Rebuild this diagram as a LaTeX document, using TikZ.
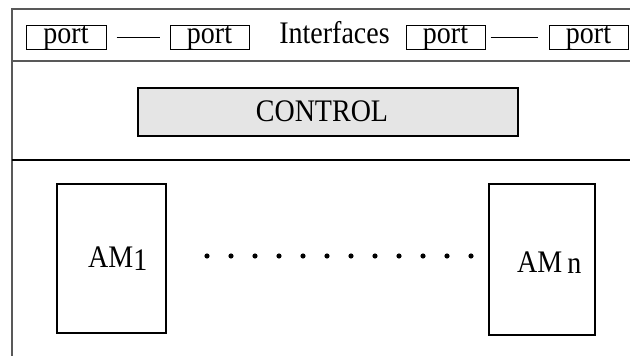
\documentclass[tikz,border=0pt]{standalone}
\usepackage{graphicx}
\usepackage{fontspec}
\setmainfont{Liberation Serif}
\newcommand\vstr[1]{\scalebox{1}[1.12]{#1}}
\begin{document}
\begin{tikzpicture}[x=1pt,y=-1pt,
  every node/.style={font=\fontsize{28}{30}\selectfont},
  frameline/.style={draw=black!65, line width=1.6pt},
  sepline/.style={draw=black, line width=1.2pt},
  portbox/.style={draw, line width=1pt, inner sep=0pt, minimum width=79pt, text height=18pt, text depth=6pt},
  wire/.style={draw, line width=1pt},
  ctrlbox/.style={draw, line width=1.2pt, fill=black!10, inner sep=0pt, minimum width=380pt, minimum height=48pt},
  ambox/.style={draw, line width=1.2pt, inner sep=0pt},
  lbl/.style={anchor=base west, inner sep=0pt}]
\useasboundingbox (0,0) rectangle (630,356);
% frame
\draw[frameline] (12,356) -- (12,9) -- (630,9);
\draw[frameline] (12,61) -- (630,61);
\draw[sepline] (12,160) -- (630,160);
% interfaces row
\node[portbox, minimum width=80pt] (p1) at (66,37) {\vstr{port}};
\node[portbox] (p2) at (209.5,37) {\vstr{port}};
\node[anchor=base, inner sep=0pt] (intf) at (334.5,43) {\vstr{Interfaces}};
\node[portbox] (p3) at (445.5,37) {\vstr{port}};
\node[portbox] (p4) at (588.5,37) {\vstr{port}};
\draw[wire, shorten <=10pt, shorten >=10pt] (p1) -- (p2);
\draw[wire, shorten <=5pt, shorten >=11pt] (p3) -- (p4);
% control
\node[ctrlbox] (ctrl) at (328,112) {};
\node[anchor=base, inner sep=0pt] (ctrltext) at (322,121) {\vstr{CONTROL}};
% AM boxes
\node[ambox, minimum width=109pt, minimum height=149pt] (am1) at (111.5,258.5) {};
\node[ambox, minimum width=106pt, minimum height=151pt] (amn) at (542,259.5) {};
\node[lbl] (l1) at (88,267) {\vstr{AM\raisebox{-3pt}{1}}};
\node[lbl] (ln) at (517,272) {\vstr{AM\hspace{5pt}\raisebox{-1pt}{n}}};
% dots
\foreach \i in {0,...,11} \fill (207+24*\i,256) circle (2.6pt);
\end{tikzpicture}
\end{document}
